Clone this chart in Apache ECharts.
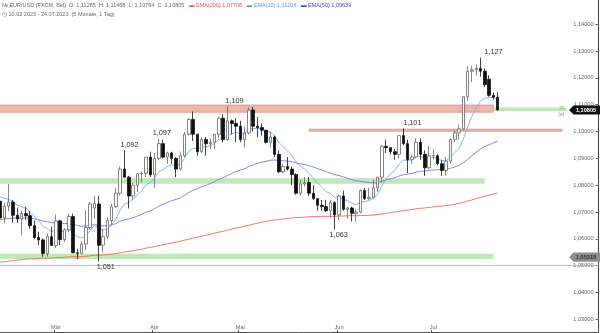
<!DOCTYPE html>
<html><head><meta charset="utf-8">
<script src="https://cdn.jsdelivr.net/npm/echarts@6/dist/echarts.min.js"></script>
<style>html,body{margin:0;padding:0;background:#fff;overflow:hidden}#c{position:absolute;left:-2px;top:0;width:602px;height:333px}</style>
</head><body><div id="c"></div><script>
// ---- data ----
const dates = [
'2023-02-10','2023-02-13','2023-02-14','2023-02-15','2023-02-16','2023-02-17','2023-02-20','2023-02-21','2023-02-22','2023-02-23','2023-02-24','2023-02-27','2023-02-28',
'2023-03-01','2023-03-02','2023-03-03','2023-03-06','2023-03-07','2023-03-08','2023-03-09','2023-03-10','2023-03-13','2023-03-14','2023-03-15','2023-03-16','2023-03-17','2023-03-20','2023-03-21','2023-03-22','2023-03-23','2023-03-24','2023-03-27','2023-03-28','2023-03-29','2023-03-30','2023-03-31',
'2023-04-03','2023-04-04','2023-04-05','2023-04-06','2023-04-07','2023-04-10','2023-04-11','2023-04-12','2023-04-13','2023-04-14','2023-04-17','2023-04-18','2023-04-19','2023-04-20','2023-04-21','2023-04-24','2023-04-25','2023-04-26','2023-04-27','2023-04-28',
'2023-05-01','2023-05-02','2023-05-03','2023-05-04','2023-05-05','2023-05-08','2023-05-09','2023-05-10','2023-05-11','2023-05-12','2023-05-15','2023-05-16','2023-05-17','2023-05-18','2023-05-19','2023-05-22','2023-05-23','2023-05-24','2023-05-25','2023-05-26','2023-05-29','2023-05-30','2023-05-31',
'2023-06-01','2023-06-02','2023-06-05','2023-06-06','2023-06-07','2023-06-08','2023-06-09','2023-06-12','2023-06-13','2023-06-14','2023-06-15','2023-06-16','2023-06-19','2023-06-20','2023-06-21','2023-06-22','2023-06-23','2023-06-26','2023-06-27','2023-06-28','2023-06-29','2023-06-30',
'2023-07-03','2023-07-04','2023-07-05','2023-07-06','2023-07-07','2023-07-10','2023-07-11','2023-07-12','2023-07-13','2023-07-14','2023-07-17','2023-07-18','2023-07-19','2023-07-20','2023-07-21','2023-07-24'];

const opens = [
1.0740,1.0678,1.0722,1.0737,1.0688,1.0674,1.0694,1.0686,1.0649,1.0605,1.0596,1.0545,1.0608,
1.0575,1.0667,1.0597,1.0634,1.0683,1.0548,1.0546,1.0581,1.0642,1.0715,1.0730,1.0576,1.0608,1.0668,1.0720,1.0770,1.0860,1.0830,1.0760,1.0800,1.0843,1.0845,1.0905,
1.0839,1.0900,1.0955,1.0905,1.0920,1.0900,1.0860,1.0910,1.0990,1.1045,1.0990,1.0925,1.0970,1.0955,1.0960,1.0990,1.1050,1.0970,1.1040,1.1030,
1.1020,1.0970,1.0995,1.1080,1.1020,1.1015,1.1005,1.0960,1.0980,1.0915,1.0850,1.0870,1.0860,1.0840,1.0770,1.0805,1.0810,1.0770,1.0750,1.0725,1.0720,1.0705,1.0735,
1.0690,1.0760,1.0710,1.0715,1.0695,1.0700,1.0780,1.0750,1.0755,1.0790,1.0830,1.0945,1.0940,1.0925,1.0915,1.0985,1.0955,1.0895,1.0905,1.0960,1.0915,1.0865,
1.0910,1.0910,1.0880,1.0855,1.0890,1.0970,1.0995,1.1010,1.1130,1.1225,1.1230,1.1235,1.1225,1.1195,1.1135,1.11285];
const highs = [
1.0752,1.0734,1.0804,1.0745,1.0717,1.0705,1.0718,1.0703,1.0668,1.0626,1.0602,1.0620,1.0645,
1.0691,1.0670,1.0640,1.0694,1.0694,1.0563,1.0590,1.0706,1.0737,1.0760,1.0760,1.0637,1.0680,1.0730,1.0790,1.0870,1.0930,1.0835,1.0810,1.0845,1.0850,1.0905,1.0925,
1.0920,1.0973,1.0970,1.0925,1.0925,1.0905,1.0925,1.0998,1.1050,1.1075,1.0990,1.0980,1.0980,1.0975,1.0990,1.1055,1.1065,1.1095,1.1045,1.1050,
1.1040,1.1020,1.1090,1.1092,1.1055,1.1030,1.1005,1.1000,1.0985,1.0930,1.0880,1.0905,1.0870,1.0845,1.0820,1.0830,1.0830,1.0800,1.0750,1.0745,1.0745,1.0745,1.0740,
1.0765,1.0780,1.0720,1.0720,1.0710,1.0785,1.0790,1.0790,1.0820,1.0830,1.0950,1.0970,1.0940,1.0935,1.0985,1.1012,1.0970,1.0915,1.0975,1.0975,1.0930,1.0945,
1.0935,1.0915,1.0895,1.0905,1.0975,1.1005,1.1025,1.1130,1.1245,1.1245,1.1250,1.1276,1.1235,1.1210,1.1145,1.11468];
const lows = [
1.0655,1.0658,1.0703,1.0660,1.0660,1.0613,1.0670,1.0637,1.0598,1.0577,1.0533,1.0534,1.0575,
1.0566,1.0577,1.0588,1.0625,1.0548,1.0524,1.0540,1.0558,1.0635,1.0675,1.0516,1.0550,1.0600,1.0650,1.0715,1.0762,1.0830,1.0713,1.0745,1.0775,1.0810,1.0830,1.0830,
1.0790,1.0893,1.0900,1.0880,1.0880,1.0830,1.0855,1.0905,1.0985,1.0965,1.0910,1.0920,1.0910,1.0935,1.0935,1.0975,1.0960,1.0965,1.0990,1.0960,
1.0960,1.0940,1.0990,1.1000,1.0980,1.0985,1.0955,1.0940,1.0905,1.0845,1.0845,1.0855,1.0800,1.0765,1.0760,1.0795,1.0760,1.0745,1.0705,1.0705,1.0700,1.0680,1.0635,
1.0670,1.0705,1.0675,1.0665,1.0665,1.0695,1.0745,1.0745,1.0750,1.0775,1.0810,1.0920,1.0915,1.0895,1.0900,1.0950,1.0845,1.0880,1.0900,1.0895,1.0835,1.0860,
1.0895,1.0875,1.0835,1.0835,1.0880,1.0960,1.0970,1.1005,1.1115,1.1185,1.1210,1.1205,1.1165,1.1130,1.1120,1.10794];
const closes = [
1.0678,1.0722,1.0737,1.0688,1.0674,1.0694,1.0686,1.0649,1.0605,1.0596,1.0545,1.0608,1.0575,
1.0667,1.0597,1.0634,1.0683,1.0548,1.0546,1.0581,1.0642,1.0730,1.0732,1.0576,1.0608,1.0668,1.0720,1.0770,1.0860,1.0830,1.0760,1.0800,1.0843,1.0845,1.0905,1.0839,
1.0900,1.0955,1.0905,1.0920,1.0900,1.0860,1.0910,1.0990,1.1045,1.0990,1.0925,1.0970,1.0955,1.0960,1.0990,1.1050,1.0970,1.1040,1.1030,1.1020,
1.0970,1.0995,1.1080,1.1020,1.1015,1.1005,1.0960,1.0980,1.0915,1.0850,1.0870,1.0860,1.0840,1.0770,1.0805,1.0810,1.0770,1.0750,1.0725,1.0720,1.0705,1.0735,1.0690,
1.0760,1.0710,1.0715,1.0695,1.0700,1.0780,1.0750,1.0755,1.0790,1.0830,1.0945,1.0940,1.0925,1.0915,1.0985,1.0955,1.0895,1.0905,1.0960,1.0915,1.0865,1.0910,
1.0910,1.0880,1.0855,1.0890,1.0970,1.0995,1.1010,1.1130,1.1225,1.1230,1.1235,1.1225,1.1175,1.1135,1.1128,1.10805];

const ema10 = [
1.0757,1.0751,1.0748,1.0737,1.0726,1.0720,1.0714,1.0702,1.0684,1.0668,1.0646,1.0639,1.0627,
1.0634,1.0627,1.0628,1.0638,1.0622,1.0608,1.0603,1.0610,1.0632,1.0650,1.0637,1.0632,1.0638,1.0653,1.0674,1.0708,1.0730,1.0735,1.0747,1.0764,1.0779,1.0802,1.0809,
1.0826,1.0849,1.0859,1.0870,1.0876,1.0873,1.0880,1.0900,1.0926,1.0938,1.0936,1.0942,1.0944,1.0947,1.0955,1.0972,1.0972,1.0984,1.0992,1.0997,
1.0992,1.0993,1.1009,1.1011,1.1012,1.1011,1.1002,1.0998,1.0983,1.0959,1.0943,1.0928,1.0912,1.0886,1.0871,1.0860,1.0844,1.0827,1.0808,1.0792,1.0776,1.0769,1.0755,
1.0756,1.0748,1.0742,1.0733,1.0727,1.0737,1.0739,1.0742,1.0751,1.0765,1.0798,1.0824,1.0842,1.0855,1.0879,1.0893,1.0893,1.0895,1.0907,1.0908,1.0900,1.0902,
1.0903,1.0899,1.0891,1.0891,1.0905,1.0921,1.0937,1.0972,1.1018,1.1057,1.1089,1.1114,1.1125,1.1127,1.1127,1.11206];
const ema50 = [
1.0672,1.0674,1.0676,1.0677,1.0677,1.0678,1.0678,1.0677,1.0674,1.0671,1.0666,1.0664,1.0660,
1.0660,1.0658,1.0657,1.0658,1.0654,1.0650,1.0647,1.0647,1.0650,1.0653,1.0650,1.0648,1.0649,1.0652,1.0657,1.0665,1.0671,1.0674,1.0679,1.0685,1.0691,1.0699,1.0704,
1.0712,1.0722,1.0729,1.0736,1.0742,1.0747,1.0753,1.0762,1.0773,1.0781,1.0787,1.0794,1.0800,1.0806,1.0813,1.0822,1.0828,1.0836,1.0844,1.0851,
1.0856,1.0861,1.0870,1.0876,1.0881,1.0886,1.0889,1.0893,1.0894,1.0892,1.0891,1.0890,1.0888,1.0883,1.0880,1.0877,1.0873,1.0868,1.0862,1.0856,1.0850,1.0845,1.0839,
1.0836,1.0831,1.0826,1.0821,1.0816,1.0815,1.0812,1.0810,1.0809,1.0810,1.0815,1.0820,1.0824,1.0828,1.0834,1.0839,1.0841,1.0844,1.0849,1.0852,1.0853,1.0855,
1.0857,1.0858,1.0858,1.0859,1.0863,1.0868,1.0874,1.0884,1.0897,1.0910,1.0923,1.0935,1.0944,1.0951,1.0958,1.09639];
const ema200 = [
1.0513,1.0515,1.0517,1.0519,1.0521,1.0522,1.0524,1.0525,1.0526,1.0527,1.0527,1.0528,1.0528,
1.0530,1.0530,1.0531,1.0533,1.0533,1.0533,1.0534,1.0535,1.0537,1.0539,1.0539,1.0540,1.0541,1.0543,1.0545,1.0548,1.0551,1.0553,1.0556,1.0559,1.0561,1.0565,1.0568,
1.0571,1.0575,1.0578,1.0581,1.0585,1.0587,1.0591,1.0595,1.0599,1.0603,1.0606,1.0610,1.0613,1.0617,1.0621,1.0625,1.0628,1.0632,1.0636,1.0640,
1.0643,1.0647,1.0651,1.0655,1.0658,1.0662,1.0665,1.0668,1.0670,1.0672,1.0674,1.0676,1.0678,1.0679,1.0680,1.0681,1.0682,1.0683,1.0683,1.0684,1.0684,1.0684,1.0684,
1.0685,1.0685,1.0686,1.0686,1.0686,1.0687,1.0687,1.0688,1.0689,1.0690,1.0693,1.0695,1.0698,1.0700,1.0703,1.0705,1.0707,1.0709,1.0712,1.0714,1.0715,1.0717,
1.0719,1.0721,1.0722,1.0724,1.0726,1.0729,1.0732,1.0736,1.0741,1.0745,1.0750,1.0755,1.0759,1.0763,1.0767,1.07708];

const yTicks = [1.03,1.04,1.05,1.06,1.07,1.08,1.09,1.10,1.11,1.12,1.13,1.14];
const monthTickDates = ['2023-03-01','2023-04-03','2023-05-01','2023-06-01','2023-07-03'];
const monthTickLabels = ['Mär','Apr','Mai','Jun','Jul'];

// zones: price bands; bar index range (null = from the left edge)
const zoneLo   = [1.1072, 1.1077, 1.1001, 1.0805, 1.0525];
const zoneHi   = [1.1099, 1.1090, 1.1009, 1.0826, 1.0544];
const zoneFrom = [null, 115, 72, null, null];
const zoneTo   = [115, 132, 131, 113, 115];
const zoneKind = ['res', 'sup', 'res', 'sup', 'sup'];

const pivotIdx   = [112, 53, 37, 29, 94, 78, 23];
const pivotPrice = [1.1276, 1.1095, 1.0973, 1.0930, 1.1012, 1.0635, 1.0516];
const pivotText  = ['1,127', '1,109', '1,097', '1,092', '1,101', '1,063', '1,051'];
const pivotSide  = ['top', 'top', 'top', 'top', 'top', 'bottom', 'bottom'];
const pivotDx    = [13, 7, 3, 5, 9, 4, 7];

const lastPrice = 1.10805;
const markedLevel = 1.05318;
const header = {
  symbol: 'EUR/USD (FXCM, Bid)', o: '1,11285', h: '1,11468', l: '1,10794', c: '1,10805',
  ema200: '1,07708', ema10: '1,11206', ema50: '1,09639',
  range: '10.02.2023 - 24.07.2023', span: '(5 Monate, 1 Tag)'
};

// ---- build ----
const PAD = 23;
const cats = dates.concat(Array.from({length: PAD}, (_, i) => 'pad' + i));
const candles = dates.map((d, i) => [opens[i], closes[i], lows[i], highs[i]]);
const fmt = v => v.toFixed(5).replace('.', ',');
const FONT = '"Liberation Sans", Arial, sans-serif';
const isMonth = (i, v) => monthTickDates.indexOf(v) >= 0;
const OX = 2; // container shift (px) so the first bar sits on the page edge
const HF = 5.5; // header font size

const zoneStyle = {
  res: {color: 'rgba(226,120,100,0.55)', borderColor: 'rgba(210,95,80,0.6)', borderWidth: 0.8},
  sup: {color: 'rgba(150,215,135,0.6)', borderWidth: 0}
};
const areas = zoneLo.map((lo, i) => {
  const a = {yAxis: lo, itemStyle: zoneStyle[zoneKind[i]]};
  if (zoneFrom[i] !== null) a.xAxis = zoneFrom[i];
  return [a, {xAxis: zoneTo[i], yAxis: zoneHi[i]}];
});

const pivots = pivotIdx.map((ix, i) => ({
  coord: [ix, pivotPrice[i]],
  label: {show: true, formatter: pivotText[i], position: pivotSide[i], distance: 2, offset: [pivotDx[i], 0],
          color: '#333', fontSize: 7.3, fontFamily: FONT}
}));

const chart = echarts.init(document.getElementById('c'), null, {renderer: 'canvas'});
chart.setOption({
  animation: false,
  backgroundColor: '#fff',
  grid: {left: 0, right: 1.5, top: 0, bottom: 1},
  xAxis: {
    type: 'category', data: cats, boundaryGap: true,
    axisLine: {show: true, lineStyle: {color: '#555', width: 1}},
    axisTick: {show: true, inside: true, length: 2, interval: isMonth, lineStyle: {color: '#555'}},
    axisLabel: {show: true, inside: true, interval: isMonth, margin: 2,
      formatter: v => monthTickLabels[monthTickDates.indexOf(v)] || '',
      color: '#666', fontSize: 5.6, fontFamily: FONT},
    splitLine: {show: false}
  },
  yAxis: {
    type: 'value', position: 'right', min: 1.02526, max: 1.14906, scale: true,
    axisLine: {show: true, lineStyle: {color: '#444', width: 1}},
    axisTick: {show: true, inside: true, length: 3, customValues: yTicks, lineStyle: {color: '#666'}},
    axisLabel: {show: true, inside: true, margin: 5, customValues: yTicks, formatter: fmt,
      color: '#666', fontSize: 5.6, fontFamily: FONT},
    splitLine: {show: false}
  },
  series: [
    {
      type: 'candlestick', data: candles, barWidth: 3, z: 3,
      itemStyle: {color: '#fff', color0: '#111', borderColor: '#666', borderColor0: '#111', borderWidth: 0.8},
      markArea: {silent: true, z: 1, data: areas},
      markLine: {silent: true, symbol: 'none', label: {show: false},
        lineStyle: {color: '#aaa', width: 0.8, type: 'solid'},
        data: [{yAxis: markedLevel}]},
      markPoint: {silent: true, symbol: 'circle', symbolSize: 0, data: pivots}
    },
    {type: 'line', data: ema200, showSymbol: false, z: 2, lineStyle: {color: '#e66a58', width: 0.9}},
    {type: 'line', data: ema50, showSymbol: false, z: 2, lineStyle: {color: '#7f74da', width: 0.9}},
    {type: 'line', data: ema10, showSymbol: false, z: 2, lineStyle: {color: '#78aee8', width: 0.9}}
  ]
});

// header + right-edge price tags
const yLast = chart.convertToPixel({yAxisIndex: 0}, lastPrice);
const yMark = chart.convertToPixel({yAxisIndex: 0}, markedLevel);
const zEnd = chart.convertToPixel({xAxisIndex: 0, yAxisIndex: 0}, [zoneTo[1], (zoneLo[1] + zoneHi[1]) / 2]);
function tag(y, fill, txtColor, text) {
  const L = 569 + OX, B = 573.5 + OX, R = 600 + OX;
  return [
    {type: 'polygon', z: 100, shape: {points: [[L, y], [B, y - 4.6], [R, y - 4.6], [R, y + 4.6], [B, y + 4.6]]},
     style: {fill: fill}},
    {type: 'text', z: 101, x: 586 + OX, y: y, style: {text: text, fill: txtColor, font: 'bold 5.6px ' + FONT,
     align: 'center', verticalAlign: 'middle'}}
  ];
}
chart.setOption({
  graphic: [
    {type: 'text', left: 2 + OX, top: 1.5, z: 100, style: {
      text: '{t|№ ' + header.symbol + '  O: ' + header.o + '  H: ' + header.h + '  L: ' + header.l + '  C: ' + header.c + '}' +
            '   {r|▬ EMA(200) ' + header.ema200 + '}   {b|▬ EMA(10) ' + header.ema10 + '}   {p|▬ EMA(50) ' + header.ema50 + '}\n' +
            '{t|◷ ' + header.range + '  ' + header.span + '}',
      font: HF + 'px ' + FONT, fill: '#666', lineHeight: 8.5,
      rich: {
        t: {fontSize: HF, fill: '#666', lineHeight: 8.5},
        r: {fontSize: HF, fill: '#e5534b', lineHeight: 8.5},
        b: {fontSize: HF, fill: '#5f95d8', lineHeight: 8.5},
        p: {fontSize: HF, fill: '#4b3fc4', lineHeight: 8.5}
      }}},
    ...tag(yLast, '#111', '#fff', fmt(lastPrice)),
    ...tag(yMark, '#8d8d8d', '#333', fmt(markedLevel)),
    {type: 'text', z: 50, x: zEnd[0] - 2, y: zEnd[1] - 1, style: {text: 'tst', fill: '#6cbf5c', font: '4.5px ' + FONT, align: 'right', verticalAlign: 'middle'}},
    {type: 'text', z: 50, x: zEnd[0] - 2, y: zEnd[1] + 6, style: {text: '[w]', fill: '#e07a6a', font: '4.5px ' + FONT, align: 'right', verticalAlign: 'middle'}}
  ]
});
</script></body></html>
